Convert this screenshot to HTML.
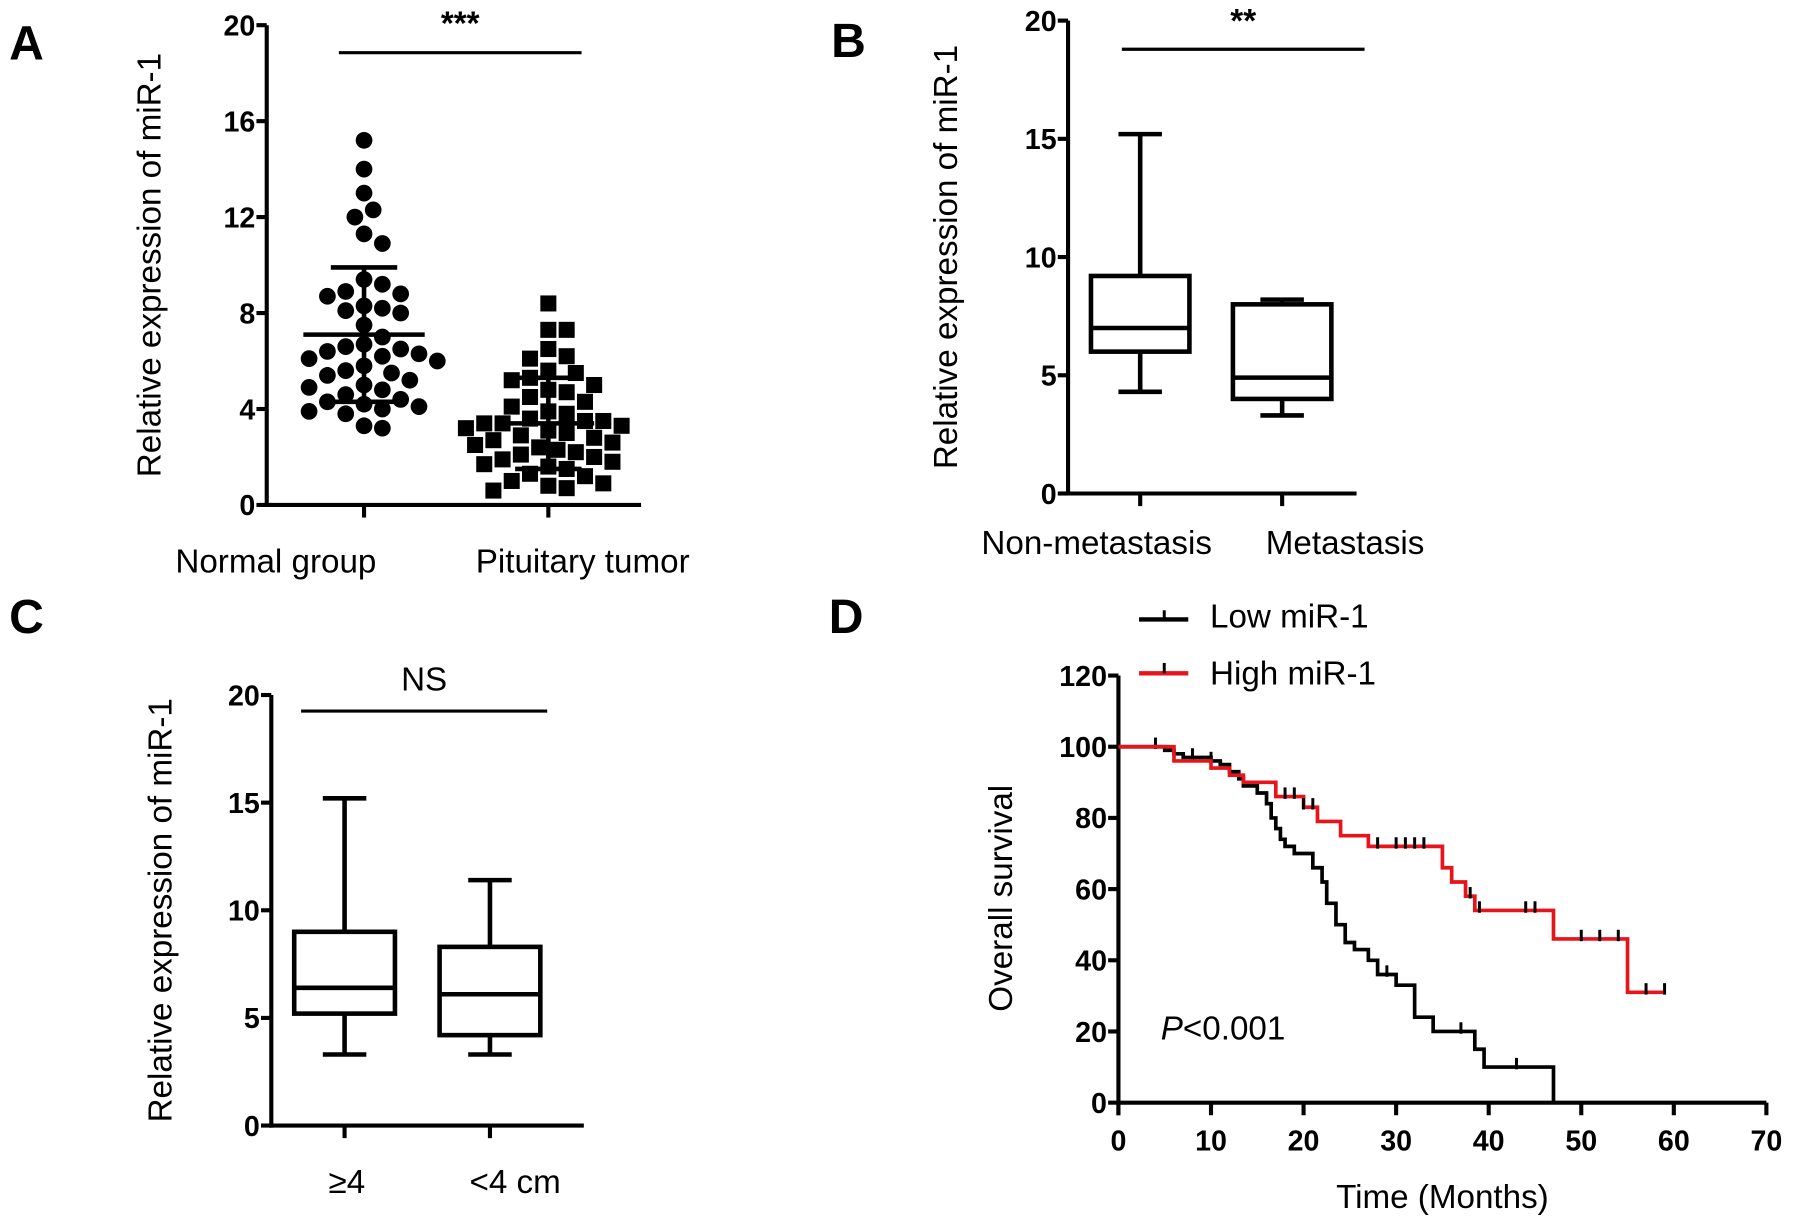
<!DOCTYPE html>
<html><head><meta charset="utf-8"><style>
html,body{margin:0;padding:0;background:#fff;}
svg{display:block;font-family:"Liberation Sans",Arial,sans-serif;}
.tk{font-size:25px;font-weight:bold;}
.tt{font-size:29px;}
.pl{font-size:42px;font-weight:bold;}
</style></head><body>
<svg id="fig" width="1795" height="1216" viewBox="0 0 1568 1062" preserveAspectRatio="none" xmlns="http://www.w3.org/2000/svg">
<text class="pl" x="8" y="52">A</text>
<text class="pl" x="726" y="50">B</text>
<text class="pl" x="8" y="553">C</text>
<text class="pl" x="724" y="553">D</text>
<g id="gA"></g>
<g id="gB"></g>
<g id="gC"></g>
<g id="gD"></g>
</svg>
<script>
// Panel A data
const normalVals=[15.2,14.0,13.0,12.3,12.0,11.3,10.9,9.4,9.2,8.9,8.8,8.7,8.3,8.2,8.1,8.0,7.5,7.0,6.7,6.6,6.5,6.4,6.3,6.2,6.1,6.0,5.8,5.6,5.5,5.4,5.2,5.0,4.9,4.8,4.6,4.4,4.3,4.2,4.1,4.0,3.9,3.8,3.3,3.2];
const tumorVals=[8.4,7.3,7.3,6.5,6.2,6.1,5.6,5.5,5.3,5.2,5.0,4.8,4.7,4.5,4.3,4.1,3.9,3.8,3.6,3.5,3.5,3.4,3.4,3.3,3.2,3.1,3.0,2.9,2.8,2.7,2.6,2.5,2.4,2.3,2.2,2.1,2.0,1.9,1.8,1.7,1.6,1.5,1.3,1.2,1.0,0.9,0.8,0.7,0.6];
const statsA=[[7.1,9.9,4.3],[3.4,5.3,1.5]]; // mean, upper, lower
const ticksA=[0,4,8,12,16,20];
const catsA=["Normal group","Pituitary tumor"];
// Panel B data
const ticksB=[0,5,10,15,20];
const catsB=["Non-metastasis","Metastasis"];
const boxB=[[4.3,6.0,7.0,9.2,15.2],[3.3,4.0,4.9,8.0,8.2]];
// Panel C data
const ticksC=[0,5,10,15,20];
const catsC=["\u22654","<4 cm"];
const boxC=[[3.3,5.2,6.4,9.0,15.2],[3.3,4.2,6.1,8.3,11.4]];
// Panel D data
const ticksDy=[0,20,40,60,80,100,120];
const ticksDx=[0,10,20,30,40,50,60,70];
const lowT=[0,5,6,7,10,11,12,13,13.5,15,16,16.5,17,17.5,18,19,21,22,22.5,23.5,24.5,25.5,27,28,30,32,34,38.5,39.5,47];
const lowS=[100,99,98,97,96,95,93,91,89,87,84,80,77,74,72,70,66,62,56,50,45,43,40,36,33,24,20,15,10,0];
const lowCens=[4,8,10,29,37,43];
const highT=[0,6,10,12,13.5,17,20,21.5,24,27,35,36,37.5,38.5,47,55];
const highS=[100,96,94,92,90,86,83,79,75,72,66,62,58,54,46,31];
const highEnd=59;
const highCens=[18,19,20,21,28,30,31,32,33,38,39,44,45,50,52,54,57,59];

const NS="http://www.w3.org/2000/svg";
function mk(p,tag,at,txt){const e=document.createElementNS(NS,tag);for(const k in at)e.setAttribute(k,at[k]);if(txt!=null)e.textContent=txt;p.appendChild(e);return e;}
function ln(p,x1,y1,x2,y2,c,w){return mk(p,'line',{x1,y1,x2,y2,stroke:c||'#000','stroke-width':w||3.6});}

function axes(g,x0,yTop,yBot,xEnd,ticks,ymax,catX,cats,catY,title,titleX){
  const y=v=>yBot-(yBot-yTop)*v/ymax;
  const ax=ln(g,x0,yTop,x0,yBot+1.8);
  
  
  const bx=ln(g,x0-1.8,yBot,xEnd,yBot);
  
  
  ticks.forEach(t=>{ln(g,x0-9,y(t),x0,y(t));
    const tx=mk(g,'text',{x:x0-10,y:y(t)+9,'text-anchor':'end',class:'tk'},String(t));
    
    });
  catX.forEach((cx,i)=>{ln(g,cx,yBot,cx,yBot+11);
    const tx=mk(g,'text',{x:cx+(cats.off?cats.off[i]:0),y:catY,'text-anchor':'middle',class:'tt','font-size':'31'},cats[i]);
    
    });
  const tt=mk(g,'text',{x:0,y:0,'text-anchor':'middle',class:'tt',transform:`translate(${titleX},${(yTop+yBot)/2}) rotate(-90)`},title);
  
  
  return y;
}
function sig(g,x1,x2,yl,txt,ty){ln(g,x1,yl,x2,yl,'#000',2.8);
  const t=mk(g,'text',{x:(x1+x2)/2,y:ty,'text-anchor':'middle',class:'tt','font-size':txt=='NS'?'30':'28','font-weight':txt=='NS'?'normal':'bold'},txt);
  
  }

// Panel A
(function(){
  const g=document.getElementById('gA');
  const cA=[318,479];
  catsA.off=[-77,30];
  const y=axes(g,233,22,441,560,ticksA,20,cA,catsA,500,"Relative expression of miR-1",140);
  sig(g,296,508,46,"***",30);
  function swarm(vals,cx,d,sq){
    const placed=[];
    vals.forEach(v=>{const py=y(v);let best=0;
      for(let k=0;k<30;k++){const cands=k==0?[0]:[k*d/2,-k*d/2];let ok=null;
        for(const o of cands){if(placed.every(p=>Math.hypot(p[0]-o,p[1]-py)>=d*0.95)){ok=o;break;}}
        if(ok!==null){best=ok;break;}}
      placed.push([best,py]);
      let e;
      if(sq){e=mk(g,'rect',{x:cx+best-7,y:py-7,width:14,height:14,fill:'#000'});}
      else{e=mk(g,'circle',{cx:cx+best,cy:py,r:7.3,fill:'#000'});}
      
      
    });
  }
  swarm(normalVals,cA[0],16,false);
  swarm(tumorVals,cA[1],16,true);
  statsA.forEach((s,i)=>{const cx=cA[i];const w=i==0?53:40;
    ln(g,cx-w,y(s[0]),cx+w,y(s[0]),'#000',4);
    ln(g,cx,y(s[1]),cx,y(s[2]),'#000',4);
    ln(g,cx-29,y(s[1]),cx+29,y(s[1]),'#000',4);
    ln(g,cx-29,y(s[2]),cx+29,y(s[2]),'#000',4);
  });
})();

function boxes(g,y,cx,data,hw){
  data.forEach((b,i)=>{const x=cx[i];
    const bg=mk(g,'g',{});
    
    
    ln(bg,x,y(b[0]),x,y(b[1]),'#000',4);ln(bg,x,y(b[3]),x,y(b[4]),'#000',4);
    ln(bg,x-19,y(b[0]),x+19,y(b[0]),'#000',4);ln(bg,x-19,y(b[4]),x+19,y(b[4]),'#000',4);
    mk(bg,'rect',{x:x-hw,y:y(b[3]),width:2*hw,height:y(b[1])-y(b[3]),fill:'none',stroke:'#000','stroke-width':4});
    ln(bg,x-hw,y(b[2]),x+hw,y(b[2]),'#000',4);
  });
}
// Panel B
(function(){
  const g=document.getElementById('gB');
  const cx=[996,1120];catsB.off=[-38,55];
  const y=axes(g,933,18,431,1185,ticksB,20,cx,catsB,484,"Relative expression of miR-1",836);
  sig(g,980,1192,43,"**",28);
  boxes(g,y,cx,boxB,43);
})();
// Panel C
(function(){
  const g=document.getElementById('gC');
  const cx=[301,428];catsC.off=[2,22];
  const y=axes(g,237,607,983,510,ticksC,20,cx,catsC,1042,"Relative expression of miR-1",150);
  sig(g,263,478,621,"NS",603);
  boxes(g,y,cx,boxC,44);
})();
// Panel D
(function(){
  const g=document.getElementById('gD');
  const x0=977,yTop=590,yBot=963,xEnd=1543;
  const y=v=>yBot-(yBot-yTop)*v/120;
  const x=t=>x0+(xEnd-x0)*t/70;
  const ax=ln(g,x0,yTop,x0,yBot+11);
  
  
  const bx=ln(g,x0-1.8,yBot,xEnd,yBot);
  
  
  ticksDy.forEach(t=>{ln(g,x0-9,y(t),x0,y(t));
    const e=mk(g,'text',{x:x0-10,y:y(t)+9,'text-anchor':'end',class:'tk'},String(t));
    
    });
  ticksDx.forEach(t=>{ln(g,x(t),yBot,x(t),yBot+11);
    const e=mk(g,'text',{x:x(t),y:1005,'text-anchor':'middle',class:'tk'},String(t));
    
    });
  let e=mk(g,'text',{x:1260,y:1055,'text-anchor':'middle',class:'tt','font-size':'31'},"Time (Months)");
  
  
  e=mk(g,'text',{x:0,y:0,'text-anchor':'middle',class:'tt',transform:`translate(884,${(yTop+yBot)/2+8}) rotate(-90)`},"Overall survival");
  
  
  e=mk(g,'text',{x:1014,y:908,class:'tt','font-size':'31'});
  
  
  mk(e,'tspan',{'font-style':'italic'},'P');mk(e,'tspan',{},'<0.001');
  function km(T,S,end,cens,col,name){
    let d=`M${x(T[0])},${y(S[0])}`;
    for(let i=1;i<T.length;i++){d+=` H${x(T[i])} V${y(S[i])}`;}
    d+=` H${x(end)}`;
    const p=mk(g,'path',{d,fill:'none',stroke:col,'stroke-width':3.2});
    
    
    cens.forEach(c=>{let s=S[0];for(let i=0;i<T.length;i++)if(T[i]<=c)s=S[i];
      ln(g,x(c),y(s)-8,x(c),y(s)+2,'#000',2.6);});
  }
  km(lowT,lowS,lowT[lowT.length-1],lowCens,'#000','low-mir1-curve');
  km(highT,highS,highEnd,highCens,'#e8141b','high-mir1-curve');
  const lg=mk(g,'g',{});
  
  
  ln(lg,995,541,1038,541,'#000',3.8);ln(lg,1017,533,1017,541,'#000',2.6);
  mk(lg,'text',{x:1057,y:548,class:'tt','font-size':'31'},"Low miR-1");
  ln(lg,995,588,1038,588,'#e8141b',3.8);ln(lg,1017,579,1017,588,'#000',2.6);
  mk(lg,'text',{x:1057,y:598,class:'tt','font-size':'31'},"High miR-1");
})();
</script>
</body></html>
